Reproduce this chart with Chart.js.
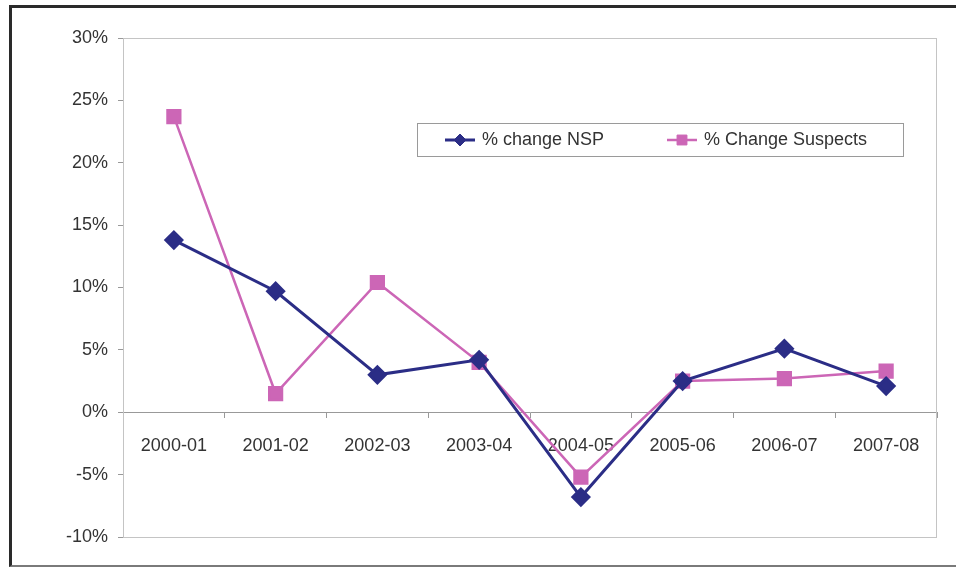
<!DOCTYPE html>
<html>
<head>
<meta charset="utf-8">
<script src="https://cdn.jsdelivr.net/npm/chart.js@4.4.0/dist/chart.umd.min.js"></script>
<style>
    body { margin: 0; background: #fff; }
    #wrap { position: relative; width: 956px; height: 567px; overflow: hidden; }
    #frame {
        position: absolute; left: 9px; top: 5px; width: 960px; height: 557px;
        border-top: 3px solid #2a2a2a; border-left: 3px solid #2a2a2a; border-bottom: 2px solid #7a7a7a;
        pointer-events: none;
    }
</style>
</head>
<body>
<div id="wrap">
    <canvas id="changeChart" width="956" height="567"></canvas>
    <div id="frame"></div>
</div>
<script>
const years = ['2000-01', '2001-02', '2002-03', '2003-04', '2004-05', '2005-06', '2006-07', '2007-08'];
const nspChange = [13.8, 9.7, 3.0, 4.2, -6.8, 2.5, 5.1, 2.1];
const suspectsChange = [23.7, 1.5, 10.4, 4.0, -5.2, 2.5, 2.7, 3.3];
const yTicks = [-10, -5, 0, 5, 10, 15, 20, 25, 30];

const navy = '#2b2d86';
const pink = '#cc66b6';
const labelFont = { family: '"Liberation Sans", Arial, sans-serif', size: 18 };

// light border round the plot area
const plotBorder = {
    id: 'plotBorder',
    beforeDatasetsDraw(chart) {
        const a = chart.chartArea;
        const ctx = chart.ctx;
        ctx.save();
        ctx.strokeStyle = '#c4c4c4';
        ctx.lineWidth = 1;
        ctx.strokeRect(a.left + 0.5, a.top + 0.5, a.right - a.left - 1, a.bottom - a.top);
        ctx.restore();
    }
};

// boxed legend sitting inside the plot
const boxLegend = {
    id: 'boxLegend',
    afterDraw(chart) {
        const ctx = chart.ctx;
        const box = { x: 417, y: 123, w: 486, h: 33 };
        const entries = [{ x: 445 }, { x: 667 }];
        const cy = box.y + box.h / 2 + 0.5;
        ctx.save();
        ctx.strokeStyle = '#9a9a9a';
        ctx.lineWidth = 1;
        ctx.fillStyle = '#fff';
        ctx.fillRect(box.x, box.y, box.w, box.h);
        ctx.strokeRect(box.x + 0.5, box.y + 0.5, box.w, box.h);
        chart.data.datasets.forEach((ds, i) => {
            const x = entries[i].x;
            ctx.strokeStyle = ds.borderColor;
            ctx.lineWidth = ds.borderWidth;
            ctx.beginPath();
            ctx.moveTo(x, cy);
            ctx.lineTo(x + 30, cy);
            ctx.stroke();
            ctx.fillStyle = ds.pointBackgroundColor;
            ctx.strokeStyle = ds.pointBorderColor;
            ctx.lineWidth = 1;
            Chart.helpers.drawPoint(ctx, { pointStyle: ds.pointStyle, radius: ds.pointRadius - 2, borderWidth: 1 }, x + 15, cy);
            ctx.fillStyle = '#333';
            ctx.font = '18px "Liberation Sans", Arial, sans-serif';
            ctx.textBaseline = 'middle';
            ctx.fillText(ds.label, x + 37, cy);
        });
        ctx.restore();
    }
};

const ctx = document.getElementById('changeChart').getContext('2d');
new Chart(ctx, {
    type: 'line',
    data: {
        labels: years,
        datasets: [{
            label: '% change NSP',
            data: nspChange,
            borderColor: navy,
            borderWidth: 3,
            pointStyle: 'rectRot',
            pointRadius: 8,
            pointBackgroundColor: navy,
            pointBorderColor: navy,
            tension: 0
        }, {
            label: '% Change Suspects',
            data: suspectsChange,
            borderColor: pink,
            borderWidth: 2.5,
            pointStyle: 'rect',
            pointRadius: 9,
            pointBackgroundColor: pink,
            pointBorderColor: pink,
            tension: 0
        }]
    },
    options: {
        responsive: false,
        animation: false,
        layout: { padding: { left: 0, top: 38, right: 19, bottom: 30 } },
        plugins: {
            legend: { display: false },
            tooltip: { enabled: false }
        },
        scales: {
            x: {
                position: { y: 0 },
                offset: true,
                grid: { offset: true, drawOnChartArea: false, drawTicks: true, tickLength: 5, color: '#999' },
                border: { color: '#999', width: 1 },
                ticks: { font: labelFont, color: '#333', padding: 18, maxRotation: 0 }
            },
            y: {
                min: -10,
                max: 30,
                afterFit(scale) { scale.width = 123; },
                afterBuildTicks(scale) { scale.ticks = yTicks.map(v => ({ value: v })); },
                grid: { drawOnChartArea: false, drawTicks: true, tickLength: 5, color: '#999' },
                border: { color: '#999', width: 1 },
                ticks: {
                    font: labelFont,
                    color: '#333',
                    padding: 10,
                    callback: v => v + '%'
                }
            }
        }
    },
    plugins: [plotBorder, boxLegend]
});
</script>
</body>
</html>
